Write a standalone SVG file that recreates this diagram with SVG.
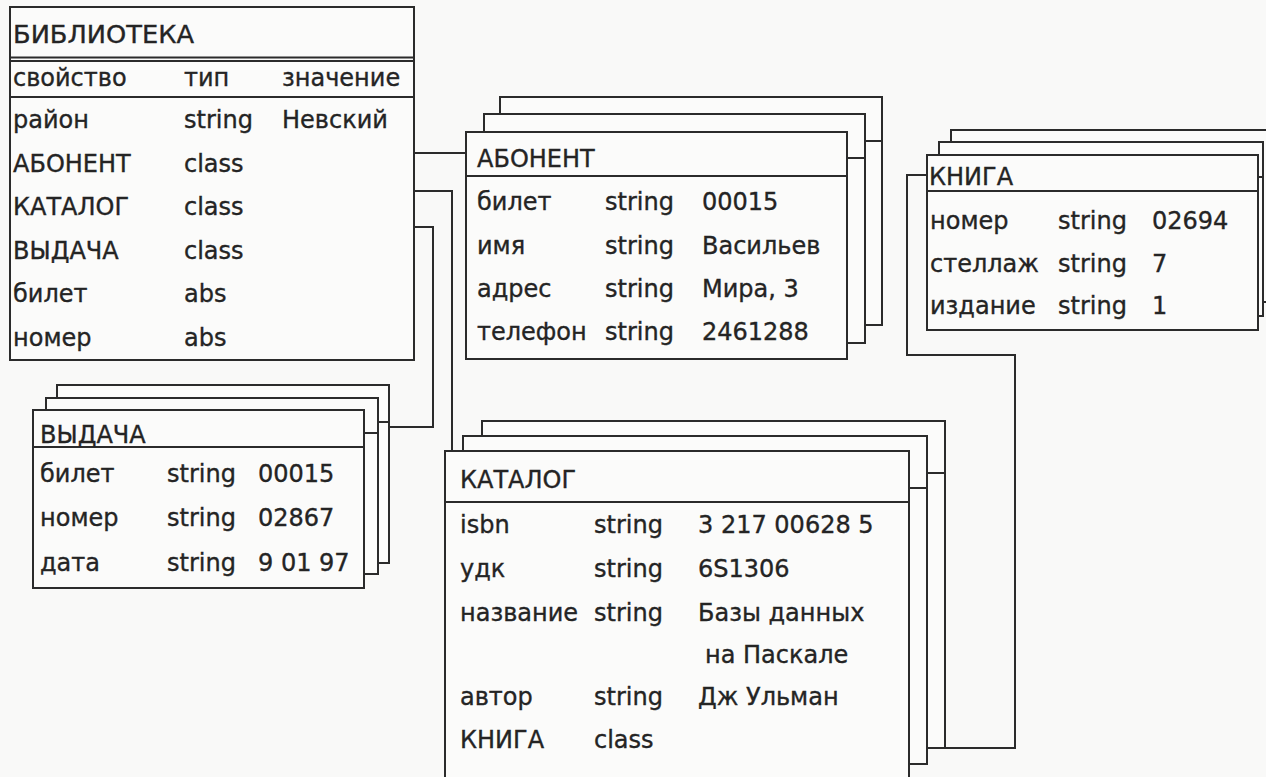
<svg xmlns="http://www.w3.org/2000/svg" width="1266" height="777" viewBox="0 0 1266 777">
<style>
.bg{fill:#f9f9f8}
.box{fill:#fbfbfa;stroke:#2b2b2b;stroke-width:2}
.ln{stroke:#2b2b2b;stroke-width:2;fill:none}
text{font-family:"DejaVu Sans","Liberation Sans",sans-serif;font-size:24px;fill:#242424;stroke:#242424;stroke-width:0.35}
</style>
<rect class="bg" x="0" y="0" width="1266" height="777"/>
<g id="connectors">
<path class="ln" d="M414 153 H466"/>
<path class="ln" d="M414 191 H452 V451"/>
<path class="ln" d="M414 227 H433 V427 H364"/>
<path class="ln" d="M927 175 H907 V355 H1015 V748 H945"/>
</g>
<g id="biblioteka">
<rect class="box" x="10" y="7" width="404" height="353"/>
<path class="ln" d="M10 57.5 H414 M10 61 H414 M10 97 H414"/>
<text x="13" y="43" font-size="23" textLength="181" lengthAdjust="spacingAndGlyphs">БИБЛИОТЕКА</text>
<text x="13" y="86">свойство</text><text x="184" y="86">тип</text><text x="282" y="86">значение</text>
<text x="13" y="128">район</text><text x="184" y="128">string</text><text x="282" y="128">Невский</text>
<text x="13" y="172">АБОНЕНТ</text><text x="184" y="172">class</text>
<text x="13" y="215">КАТАЛОГ</text><text x="184" y="215">class</text>
<text x="13" y="259">ВЫДАЧА</text><text x="184" y="259">class</text>
<text x="13" y="302">билет</text><text x="184" y="302">abs</text>
<text x="13" y="346">номер</text><text x="184" y="346">abs</text>
</g>
<g id="abonent">
<rect class="box" x="500" y="97" width="382" height="228"/>
<path class="ln" d="M500 141 H882"/>
<rect class="box" x="484" y="114" width="381" height="229"/>
<path class="ln" d="M484 158 H865"/>
<rect class="box" x="466" y="132" width="381" height="227"/>
<path class="ln" d="M466 176 H847"/>
<text x="477" y="167">АБОНЕНТ</text>
<text x="477" y="210">билет</text><text x="605" y="210">string</text><text x="702" y="210">00015</text>
<text x="477" y="254">имя</text><text x="605" y="254">string</text><text x="702" y="254">Васильев</text>
<text x="477" y="297">адрес</text><text x="605" y="297">string</text><text x="702" y="297">Мира, 3</text>
<text x="477" y="340">телефон</text><text x="605" y="340">string</text><text x="702" y="340">2461288</text>
</g>
<g id="kniga">
<rect class="box" x="951" y="130" width="340" height="172"/>
<rect class="box" x="939" y="142" width="324" height="174"/>
<path class="ln" d="M939 177 H1263"/>
<rect class="box" x="927" y="155" width="331" height="175"/>
<path class="ln" d="M927 191 H1258"/>
<text x="929" y="185">КНИГА</text>
<text x="930" y="229">номер</text><text x="1058" y="229">string</text><text x="1152" y="229">02694</text>
<text x="930" y="272">стеллаж</text><text x="1058" y="272">string</text><text x="1152" y="272">7</text>
<text x="930" y="314">издание</text><text x="1058" y="314">string</text><text x="1152" y="314">1</text>
</g>
<g id="vydacha">
<rect class="box" x="57" y="385" width="332" height="178"/>
<path class="ln" d="M57 422 H389"/>
<rect class="box" x="46" y="398" width="332" height="176"/>
<path class="ln" d="M46 433 H378"/>
<rect class="box" x="33" y="410" width="331" height="178"/>
<path class="ln" d="M33 447 H364"/>
<text x="40" y="443">ВЫДАЧА</text>
<text x="40" y="482">билет</text><text x="167" y="482">string</text><text x="258" y="482">00015</text>
<text x="40" y="526">номер</text><text x="167" y="526">string</text><text x="258" y="526">02867</text>
<text x="40" y="571">дата</text><text x="167" y="571">string</text><text x="258" y="571">9 01 97</text>
</g>
<g id="katalog">
<rect class="box" x="482" y="421" width="463" height="327"/>
<path class="ln" d="M482 473 H945"/>
<rect class="box" x="463" y="436" width="464" height="328"/>
<path class="ln" d="M463 488 H927"/>
<rect class="box" x="445" y="451" width="464" height="360"/>
<path class="ln" d="M445 502 H909"/>
<text x="460" y="488">КАТАЛОГ</text>
<text x="460" y="533">isbn</text><text x="594" y="533">string</text><text x="698" y="533">3 217 00628 5</text>
<text x="460" y="577">удк</text><text x="594" y="577">string</text><text x="698" y="577">6S1306</text>
<text x="460" y="621">название</text><text x="594" y="621">string</text><text x="698" y="621">Базы данных</text>
<text x="705" y="663">на Паскале</text>
<text x="460" y="705">автор</text><text x="594" y="705">string</text><text x="698" y="705">Дж Ульман</text>
<text x="460" y="748">КНИГА</text><text x="594" y="748">class</text>
</g>
</svg>
